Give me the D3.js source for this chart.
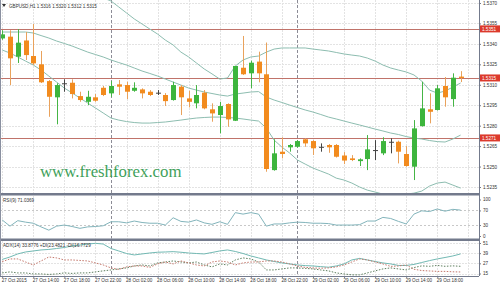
<!DOCTYPE html>
<html>
<head>
<meta charset="utf-8">
<script src="https://cdn.jsdelivr.net/npm/d3@7"></script>
<style>
  body { margin: 0; background: #fff; }
  svg { display: block; }
</style>
</head>
<body>
<script>

// GBPUSD H1 candles, 27 Oct 10:00 -> 29 Oct 21:00
var opens  = [1.5344,1.53453,1.53306,1.53425,1.53311,1.5325,1.53127,1.53008,1.53111,1.53115,
              1.53017,1.52975,1.53008,1.53078,1.53037,1.53103,1.53098,1.53056,1.53066,1.53049,
              1.53042,1.53025,1.52988,1.53086,1.53,1.52964,1.53042,1.5292,1.52878,1.52959,
              1.52836,1.53225,1.53184,1.5327,1.53177,1.52474,1.52609,1.52641,1.52645,1.527,
              1.52687,1.52645,1.52658,1.52658,1.52581,1.5256,1.5254,1.52555,1.52621,1.52597,
              1.52682,1.52682,1.52592,1.52499,1.52797,1.5292,1.52915,1.53091,1.52995,1.5316];
var highs  = [1.5350,1.5350,1.53509,1.53487,1.53546,1.53348,1.53135,1.53111,1.5314,1.5314,
              1.53049,1.53056,1.53032,1.53091,1.53127,1.53135,1.53122,1.53118,1.53074,1.53061,
              1.53061,1.53039,1.53122,1.53098,1.53056,1.53098,1.53061,1.52964,1.52975,1.52964,
              1.53238,1.53458,1.53277,1.53343,1.5341,1.527,1.52715,1.52665,1.52694,1.52707,
              1.52694,1.5267,1.52665,1.52665,1.52606,1.52584,1.5256,1.52731,1.52694,1.52715,
              1.52707,1.5269,1.5265,1.52841,1.53122,1.53037,1.53098,1.53157,1.53184,1.5320];
var lows   = [1.5343,1.53098,1.5326,1.53282,1.53245,1.53113,1.52865,1.5281,1.53049,1.53,
              1.52975,1.52951,1.52975,1.53017,1.53012,1.53025,1.52995,1.53049,1.53,1.53017,
              1.53025,1.52944,1.52984,1.52878,1.52934,1.52927,1.5292,1.52829,1.52744,1.52792,
              1.52834,1.53172,1.53074,1.53118,1.52462,1.5247,1.5256,1.52609,1.52641,1.52645,
              1.52585,1.52609,1.52601,1.52566,1.52518,1.5254,1.52504,1.52474,1.52548,1.52584,
              1.52597,1.52523,1.52499,1.52401,1.52793,1.52817,1.52911,1.52939,1.52939,1.5312];
var closes = [1.5347,1.53294,1.53409,1.53318,1.53257,1.53118,1.53012,1.53098,1.53111,1.53032,
              1.52988,1.53012,1.52983,1.53025,1.53091,1.53086,1.53049,1.53078,1.53037,1.53025,
              1.53042,1.5298,1.53098,1.53008,1.52975,1.53025,1.52927,1.5289,1.52944,1.52846,
              1.53238,1.53177,1.53262,1.53184,1.52482,1.52597,1.52592,1.52658,1.52687,1.5267,
              1.52634,1.52645,1.52641,1.52572,1.52544,1.52548,1.52553,1.52626,1.52621,1.52687,
              1.52682,1.52609,1.52504,1.5278,1.52927,1.52902,1.53074,1.53008,1.53152,1.5315];

// Bollinger bands
var bbUpper  = [1.53751,1.53781,1.53795,1.5381,1.53825,1.53832,1.53832,1.53825,1.53817,1.53803,
                1.53788,1.53773,1.53759,1.53737,1.53715,1.53671,1.53627,1.53583,1.53546,1.53509,
                1.53472,1.53428,1.53392,1.5334,1.53304,1.5326,1.53216,1.5318,1.53142,1.5315,
                1.53238,1.53282,1.53304,1.53311,1.5334,1.53362,1.5337,1.5337,1.5337,1.5337,
                1.53362,1.53355,1.53348,1.53337,1.53326,1.53318,1.53311,1.53296,1.53274,1.53245,
                1.53223,1.53208,1.53194,1.53172,1.53127,1.53061,1.53039,1.53054,1.53083,1.53113];
var bbMiddle = [1.53487,1.53487,1.53487,1.53487,1.5348,1.53461,1.53443,1.53421,1.53403,1.53384,
                1.53362,1.5334,1.53322,1.53304,1.53282,1.53263,1.53245,1.53223,1.53201,1.53183,
                1.53164,1.53142,1.5312,1.53098,1.53076,1.53061,1.53047,1.53036,1.53025,1.53017,
                1.53032,1.53039,1.53047,1.5305,1.5301,1.52988,1.5297,1.52951,1.52933,1.52915,
                1.529,1.52882,1.52863,1.52849,1.52834,1.52819,1.52805,1.5279,1.52775,1.52761,
                1.52746,1.52735,1.5272,1.52709,1.52702,1.52691,1.52683,1.5268,1.52702,1.52731];
var bbLower  = [1.53355,1.53333,1.53304,1.53274,1.53245,1.53208,1.53164,1.5312,1.53076,1.5304,
                1.53003,1.52966,1.5293,1.52893,1.52856,1.52841,1.5283,1.52823,1.52819,1.52819,
                1.52823,1.52827,1.52834,1.52841,1.52849,1.52856,1.5286,1.52863,1.52863,1.5286,
                1.52856,1.52849,1.52841,1.52834,1.52782,1.52694,1.52643,1.52599,1.52548,1.52518,
                1.52489,1.52467,1.52445,1.52415,1.52401,1.52379,1.5235,1.52327,1.52313,1.52298,
                1.52298,1.52298,1.52298,1.52305,1.5232,1.52357,1.52379,1.52386,1.52364,1.52342];

// RSI(9)
var rsi = [44,27,42,38,35,25,16,27,30,26,21,25,26,28,39,39,36,41,37,35,
           35,30,50,40,38,44,36,32,39,32,64,60,64,60,27,33,33,36,38,37,
           35,35,34,30,30,30,31,41,41,51,48,40,33,60,69,67,74,68,73,71];

// ADX(14)
var adx     = [31.6,34.5,38.1,40.4,41.6,42.8,43.4,44.5,45.7,47.5,48.6,49.8,50.6,49.8,44.5,41.6,38.6,36.9,38.1,39.2,
               40.1,40.4,40.8,40.1,39.2,38.6,38.1,39.8,41.6,42.8,41,38.6,35.7,33.4,31,29.2,27.5,26.3,25.1,24.3,
               23.9,23.1,22.4,23.9,26.3,31,32.8,31,29.2,27.5,26.3,24.5,24.5,25.7,28,30.2,32.2,33.9,35.7,38.1];
var plusDi  = [15.7,16.9,15.7,15.7,14.5,14.5,13.9,14.5,15.7,15.1,15.7,15.7,16.9,18.1,19.2,20.4,21.6,23.9,25.1,23.9,
               27.5,28.6,29.8,28.6,27.5,28.6,25.1,22.8,26.3,25.1,31,33.4,32.2,28.6,19.2,19.2,20.4,21.6,21.6,21,
               20.4,19.2,18.1,15.7,14.5,13.4,13.4,15.7,18.1,20.4,21.6,20.4,19.2,22,24,23.5,24.5,23.5,24,23.5];
var minusDi = [29,32.2,32.2,28.6,25.1,29.8,34.5,33.4,31,31,30.4,29.8,27.5,25.1,21.6,19.8,22.8,23.9,23.9,22.2,
               26.3,28.6,26.3,29.8,27.5,25.1,23.9,28.6,29.8,28.6,25.1,27.5,28.6,28.6,29.8,29.8,28.6,26.3,23.9,22.2,
               21.6,21.2,21.6,22.8,25.1,28.6,32.2,31,28.6,26.3,23.4,23.9,25.1,20,18.5,18,17.5,17.5,17,16.8];

// axes and levels
var priceTicks = [1.5370,1.5355,1.5340,1.5325,1.5310,1.5295,1.5280,1.5265,1.5250,1.5235];
var levels     = [1.5351,1.5315,1.5271];
var rsiTicks   = [100,70,30,0];
var rsiLevels  = [70,30];
var adxTicks   = [51,39,27,15];
var timeBars   = [0,4,8,12,16,20,24,28,32,36,40,44,48,52,56];
var timeLabels = ["27 Oct 2015","27 Oct 14:00","27 Oct 18:00","27 Oct 22:00","28 Oct 02:00",
                  "28 Oct 06:00","28 Oct 10:00","28 Oct 14:00","28 Oct 18:00","28 Oct 22:00",
                  "29 Oct 02:00","29 Oct 06:00","29 Oct 10:00","29 Oct 14:00","29 Oct 18:00"];
var dayBars    = [14,38];
var gridBars   = [0,4,8,12,16,20,24,28,32,36,40,44,48,52,56,60];

var FONT = "Liberation Sans, Arial, sans-serif";
var plotRight = 479;
var mainTop = 0, mainBottom = 193;
var rsiTop = 196, rsiBottom = 238.5;
var adxTop = 241, adxBottom = 276;

var svg = d3.select("body").append("svg")
    .attr("width", 500)
    .attr("height", 286);

svg.append("rect").attr("width", 500).attr("height", 286).attr("fill", "white");

// SCALES

var x = d3.scaleLinear().domain([0, 59]).range([2.2, 460.6]);
var yPrice = d3.scaleLinear().domain([1.5235, 1.5370]).range([187, 3]);
var yRsi = d3.scaleLinear().domain([0, 100]).range([236, 199.5]);
var yAdx = d3.scaleLinear().domain([15, 51]).range([273.5, 243]);

var defs = svg.append("defs");
defs.append("clipPath").attr("id", "clipMain")
    .append("rect").attr("x", 0).attr("y", mainTop).attr("width", plotRight).attr("height", mainBottom - mainTop);

// GRID AND SEPARATORS

function drawGrid(top, bottom, yScale, ticks) {
    var g = svg.append("g");
    g.selectAll(".vg").data(gridBars).enter().append("line")
        .attr("x1", function(d) { return Math.round(x(d)) + 0.5; })
        .attr("x2", function(d) { return Math.round(x(d)) + 0.5; })
        .attr("y1", top).attr("y2", bottom)
        .attr("stroke", "#e3e3e3").attr("stroke-dasharray", "2,1");
    g.selectAll(".hg").data(ticks).enter().append("line")
        .attr("x1", 0).attr("x2", plotRight)
        .attr("y1", function(d) { return Math.round(yScale(d)) + 0.5; })
        .attr("y2", function(d) { return Math.round(yScale(d)) + 0.5; })
        .attr("stroke", "#e3e3e3").attr("stroke-dasharray", "2,1");
    g.selectAll(".sep").data(dayBars).enter().append("line")
        .attr("x1", function(d) { return Math.round(x(d)) + 0.5; })
        .attr("x2", function(d) { return Math.round(x(d)) + 0.5; })
        .attr("y1", top).attr("y2", bottom)
        .attr("stroke", "#8c8c96").attr("stroke-dasharray", "3,2");
}

drawGrid(mainTop, mainBottom, yPrice, priceTicks);
drawGrid(rsiTop, rsiBottom, yRsi, []);
drawGrid(adxTop, adxBottom, yAdx, adxTicks);

// RSI level lines
svg.append("g").selectAll("line").data(rsiLevels).enter().append("line")
    .attr("x1", 0).attr("x2", plotRight)
    .attr("y1", function(d) { return Math.round(yRsi(d)) + 0.5; })
    .attr("y2", function(d) { return Math.round(yRsi(d)) + 0.5; })
    .attr("stroke", "#c8c8c8").attr("stroke-dasharray", "2,2");

// HORIZONTAL LEVELS

svg.append("g").selectAll("line").data(levels).enter().append("line")
    .attr("x1", 0).attr("x2", plotRight)
    .attr("y1", function(d) { return Math.round(yPrice(d)) + 0.5; })
    .attr("y2", function(d) { return Math.round(yPrice(d)) + 0.5; })
    .attr("stroke", "#c0736a").attr("stroke-width", 1);

// WATERMARK

svg.append("text")
    .attr("x", 40).attr("y", 177)
    .attr("font-family", "Liberation Serif, Times New Roman, serif")
    .attr("font-size", "16.8px")
    .attr("fill", "#3f9f5a")
    .text("www.freshforex.com");

// BOLLINGER BANDS

var main = svg.append("g").attr("clip-path", "url(#clipMain)");

[bbUpper, bbMiddle, bbLower].forEach(function(band) {
    main.append("path")
        .datum(band)
        .attr("fill", "none")
        .attr("stroke", "#8dbdb0")
        .attr("stroke-width", 1)
        .attr("d", d3.line().x(function(d, i) { return x(i); }).y(function(d) { return yPrice(d); }));
});

// CANDLES

var bars = d3.range(opens.length);

main.selectAll(".wick").data(bars).enter().append("line")
    .attr("x1", function(i) { return Math.round(x(i)) + 0.5; })
    .attr("x2", function(i) { return Math.round(x(i)) + 0.5; })
    .attr("y1", function(i) { return yPrice(highs[i]); })
    .attr("y2", function(i) { return yPrice(lows[i]); })
    .attr("stroke", function(i) {
        if (closes[i] > opens[i]) return "#45b545";
        if (closes[i] < opens[i]) return "#e9a25c";
        return "#444";
    });

main.selectAll(".body").data(bars).enter().append("rect")
    .attr("x", function(i) { return Math.round(x(i)) - 2; })
    .attr("width", 5)
    .attr("y", function(i) { return yPrice(Math.max(opens[i], closes[i])); })
    .attr("height", function(i) { return Math.max(1, Math.abs(yPrice(opens[i]) - yPrice(closes[i]))); })
    .attr("fill", function(i) {
        if (closes[i] > opens[i]) return "#3db53d";
        if (closes[i] < opens[i]) return "#f28b1e";
        return "#444";
    });

// RSI LINE

svg.append("path")
    .datum(rsi)
    .attr("fill", "none")
    .attr("stroke", "#82b4bb")
    .attr("d", d3.line().x(function(d, i) { return x(i); }).y(function(d) { return yRsi(d); }));

// ADX LINES

svg.append("path").datum(adx)
    .attr("fill", "none").attr("stroke", "#72b9b3")
    .attr("d", d3.line().x(function(d, i) { return x(i); }).y(function(d) { return yAdx(d); }));
svg.append("path").datum(plusDi)
    .attr("fill", "none").attr("stroke", "#5f7f5f").attr("stroke-dasharray", "1.5,1.5")
    .attr("d", d3.line().x(function(d, i) { return x(i); }).y(function(d) { return yAdx(d); }));
svg.append("path").datum(minusDi)
    .attr("fill", "none").attr("stroke", "#c4766a").attr("stroke-dasharray", "1.5,1.5")
    .attr("d", d3.line().x(function(d, i) { return x(i); }).y(function(d) { return yAdx(d); }));

// PANEL FRAMES

svg.append("rect").attr("x", 0).attr("y", mainBottom).attr("width", plotRight).attr("height", 2.5).attr("fill", "#737a8c");
svg.append("rect").attr("x", 0).attr("y", rsiBottom).attr("width", plotRight).attr("height", 2.5).attr("fill", "#737a8c");
svg.append("line").attr("x1", 0).attr("x2", plotRight).attr("y1", adxBottom + 0.5).attr("y2", adxBottom + 0.5).attr("stroke", "#737a8c");
svg.append("line").attr("x1", 0.5).attr("x2", 0.5).attr("y1", 0).attr("y2", adxBottom).attr("stroke", "#8a90a0");
svg.append("line").attr("x1", plotRight + 0.5).attr("x2", plotRight + 0.5).attr("y1", 0).attr("y2", adxBottom).attr("stroke", "#737a8c");

// AXES

function styleAxis(g) {
    g.select(".domain").remove();
    g.selectAll("line").attr("stroke", "#737a8c");
    g.selectAll("text").attr("font-family", FONT).attr("font-size", "4.6px").attr("fill", "#333");
}

svg.append("g")
    .attr("transform", "translate(" + plotRight + ",0)")
    .call(d3.axisRight(yPrice).tickValues(priceTicks).tickSize(2).tickPadding(2).tickFormat(d3.format(".4f")))
    .call(styleAxis);

svg.append("g")
    .attr("transform", "translate(" + plotRight + ",0)")
    .call(d3.axisRight(yRsi).tickValues(rsiTicks).tickSize(2).tickPadding(2))
    .call(styleAxis);

svg.append("g")
    .attr("transform", "translate(" + plotRight + ",0)")
    .call(d3.axisRight(yAdx).tickValues(adxTicks).tickSize(2).tickPadding(2))
    .call(styleAxis);

svg.append("g")
    .attr("transform", "translate(0," + adxBottom + ")")
    .call(d3.axisBottom(x).tickValues(timeBars).tickSize(2).tickPadding(1)
        .tickFormat(function(d, i) { return timeLabels[i]; }))
    .call(styleAxis)
    .selectAll("text").attr("text-anchor", "start").attr("dx", "-1px");

// level price tags
var tags = svg.append("g").selectAll("g").data(levels).enter().append("g")
    .attr("transform", function(d) { return "translate(" + (plotRight + 1) + "," + yPrice(d) + ")"; });
tags.append("rect").attr("x", 0).attr("y", -3.5).attr("width", 20).attr("height", 7).attr("fill", "#dc3a2c");
tags.append("text").attr("x", 2).attr("y", 1.7)
    .attr("font-family", FONT).attr("font-size", "4.6px").attr("fill", "white")
    .text(function(d) { return d3.format(".4f")(d); });

// HEADERS

svg.append("path").attr("d", "M2,4 L6,4 L4,7 Z").attr("fill", "#333");
svg.append("text").attr("x", 9).attr("y", 7.5)
    .attr("font-family", FONT).attr("font-size", "4.6px").attr("fill", "#333")
    .text("GBPUSD,H1  1.5316 1.5320 1.5312 1.5315");

svg.append("text").attr("x", 3).attr("y", rsiTop + 6)
    .attr("font-family", FONT).attr("font-size", "4.6px").attr("fill", "#333")
    .text("RSI(9) 71.0369");

svg.append("text").attr("x", 3).attr("y", adxTop + 5.5)
    .attr("font-family", FONT).attr("font-size", "4.6px").attr("fill", "#333")
    .text("ADX(14) 33.8776 +DI(23.4821 -DI(16.7729");

</script>
</body>
</html>
